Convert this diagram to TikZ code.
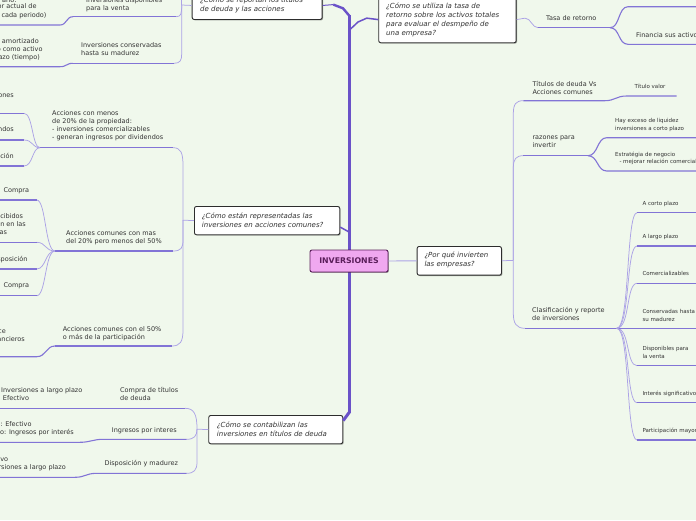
\documentclass[tikz,border=0pt]{standalone}
\usepackage{fontspec}
\setmainfont{DejaVu Sans}
\usetikzlibrary{shadows}
\definecolor{bg}{RGB}{240,248,236}
\definecolor{trunkc}{RGB}{106,82,200}
\definecolor{ulc}{RGB}{130,116,214}
\definecolor{cvc}{RGB}{172,163,230}
\definecolor{txt}{RGB}{51,51,51}
\definecolor{boxd}{RGB}{45,45,45}
\definecolor{cfill}{RGB}{240,168,240}
\definecolor{cdraw}{RGB}{90,30,90}
\tikzset{
  tx/.style={font=\fontsize{6.5}{8}\selectfont, text=txt, inner sep=0pt, anchor=base west, align=left},
  txr/.style={tx, anchor=base east, align=right},
  ts/.style={font=\fontsize{5.5}{7.2}\selectfont, text=txt, inner sep=0pt, anchor=base west, align=left},
  bt/.style={font=\itshape\fontsize{7}{9}\selectfont, text=txt, inner sep=0pt, anchor=base west, align=left},
  qbox/.style={draw=boxd, fill=white, line width=0.9pt, rounded corners=2pt, anchor=north west,
    inner sep=0pt, drop shadow={shadow xshift=0.9pt, shadow yshift=-0.9pt, opacity=0.35, fill=black}},
  cbox/.style={draw=cdraw, fill=cfill, line width=0.9pt, rounded corners=2pt, minimum width=78pt,
    minimum height=22pt, inner sep=0pt, font=\bfseries\fontsize{7.8}{9}\selectfont, text=cdraw,
    drop shadow={shadow xshift=0.9pt, shadow yshift=-0.9pt, opacity=0.35, fill=black}},
  ul/.style={draw=ulc, line width=1.1pt},
  cv/.style={draw=cvc, line width=0.75pt},
  trk/.style={draw=trunkc, line width=3.3pt},
  tlk/.style={draw=trunkc, line width=1.5pt},
  lk/.style={draw=cvc, line width=0.9pt},
}
\begin{document}
\begin{tikzpicture}[x=1pt,y=-1pt]
\useasboundingbox (0,0) rectangle (696,520);
\fill[bg] (0,0) rectangle (696,520);
\clip (0,0) rectangle (696,520);

% ---------------- trunk ----------------
\draw[trk] (349.5,413) -- (349.5,15);
\draw[tlk, line width=2.4pt] (349.5,16) -- (343,8.3) -- (333.3,4.6);

% ---------------- boxes ----------------
\node[qbox, minimum width=130pt, minimum height=28pt] (b1) at (191.7,-9) {};
\node[bt] (b1t) at (200,11.5) {¿Cómo se reportan los títulos\\de deuda y las acciones};
\node[qbox, minimum width=137.4pt, minimum height=46.3pt] (b2) at (378.3,-4) {};
\node[bt] (b2t) at (386,35.5) {¿Cómo se utiliza la tasa de\\retorno sobre los activos totales\\para evaluar el desmpeño de\\una empresa?};
\node[qbox, minimum width=145.3pt, minimum height=28.3pt] (b3) at (194,206) {};
\node[bt] (b3t) at (201.7,227.3) {¿Cómo están representadas las\\inversiones en acciones comunes?};
\node[qbox, minimum width=84.3pt, minimum height=28.7pt] (b4) at (416.7,246) {};
\node[bt] (b4t) at (424.3,266.8) {¿Por qué invierten\\las empresas?};
\node[qbox, minimum width=134pt, minimum height=28.3pt] (b5) at (208.3,415) {};
\node[bt] (b5t) at (216.7,436.5) {¿Cómo se contabilizan las\\inversiones en títulos de deuda};
\node[cbox] (inv) at (349,261) {INVERSIONES};

% trunk links
\draw[tlk, line width=1pt] (333.3,4.6) -- (b1.east);
\draw[tlk] (349.5,30) -- (358,22) -- (366.7,18.15) -- (b2.west);
\draw[tlk] ([yshift=-6.5pt]b3.east) -- (348.5,231.7);
\draw[trk, line width=3pt] (349.5,412) -- ([yshift=9pt]b5.east);
\draw[lk] (inv.east) -- (b4.west);

% ---------------- box 1 group ----------------
\coordinate (j1) at (181.7,5);
\draw[cv] (b1.west) -- (j1);
\draw[cv] (181.7,-15) -- (j1);
\draw[cv] (j1) .. controls (181.7,14) and (181,16.7) .. (176,16.7);
\draw[ul] (176,16.7) -- (73,16.7);
\draw[cv] (j1) -- (181.7,54) .. controls (181.7,60.5) and (180,63.3) .. (174,63.3);
\draw[ul] (174,63.3) -- (73,63.3);
\draw[ul] (73,16.7) .. controls (66,16.7) and (67,25) .. (60,25) -- (-2,25);
\draw[ul] (73,63.3) .. controls (66,63.3) and (67,66.7) .. (60,66.7) -- (-2,66.7);
\node[tx] (a1) at (86,10.2) {Inversiones disponibles\\para la venta};
\node[tx] (a2) at (81,55.4) {Inversiones conservadas\\hasta su madurez};
\node[txr] (a1a) at (16.7,2.2) {ano:};
\node[txr] (a1b) at (36.7,8.9) {or actual de};
\node[txr] (a1c) at (46.7,17.2) {cada periodo)};
\node[txr] (a2a) at (39,43.9) {amortizado};
\node[txr] (a2b) at (42.7,51.5) {o como activo};
\node[txr] (a2c) at (40,59.5) {azo (tiempo)};

% ---------------- box 2 group ----------------
\draw[cv] (b2.east) -- (525,18.15) .. controls (531,18.15) and (532,27.7) .. (538,27.7);
\draw[ul] (538,27.7) -- (610,27.7);
\draw[ul] (610,27.7) .. controls (620,27.7) and (618,6.7) .. (628,6.7) -- (700,6.7);
\draw[ul] (610,27.7) .. controls (620,27.7) and (618,44.3) .. (628,44.3) -- (700,44.3);
\node[tx] (tr) at (546,20.5) {Tasa de retorno};
\node[tx] (fa) at (636,37.9) {Financia sus activos};

% ---------------- box 3 group ----------------
\coordinate (j3) at (183,220.15);
\draw[cv] (b3.west) -- (j3);
\draw[cv] (j3) -- (183,166) .. controls (183,153) and (181,147.7) .. (173,147.7);
\draw[ul] (173,147.7) -- (40,147.7);
\draw[cv] (j3) -- (183,240) .. controls (183,248) and (181,251) .. (173,251);
\draw[ul] (173,251) -- (55,251);
\draw[cv] (j3) -- (183,330) .. controls (183,342) and (180,346) .. (171.7,346);
\draw[ul] (171.7,346) -- (55,346);
\foreach \yy in {113.3,140,166}{
  \draw[cv] (40,147.7) .. controls (32,147.7) and (33,\yy) .. (24,\yy);
  \draw[ul] (24,\yy) -- (-2,\yy);
}
\foreach \yy in {200,242.3,269,295.7}{
  \draw[cv] (55,251) .. controls (45,251) and (46,\yy) .. (36.7,\yy);
  \draw[ul] (36.7,\yy) -- (-2,\yy);
}
\draw[ul] (55,346) .. controls (46,346) and (46,356.7) .. (36.7,356.7) -- (-2,356.7);
\node[tx] (p1) at (52,139.5) {Acciones con menos\\de 20\% de la propiedad:\\- inversiones comercializables\\- generan ingresos por dividendos};
\node[tx] (p2) at (66,243.3) {Acciones comunes con mas\\del 20\% pero menos del 50\%};
\node[tx] (p3) at (62.7,339) {Acciones comunes con el 50\%\\o más de la participación};
\node[txr] (q1) at (14,97.9) {ones};
\node[txr] (q2) at (14,131.5) {ndos};
\node[txr] (q3) at (14,158.2) {ción};
\node[tx] (q4) at (3.3,192.5) {Compra};
\node[txr] (q5a) at (23.3,218.2) {ecibidos};
\node[txr] (q5b) at (26,226.5) {n en las};
\node[txr] (q5c) at (7.3,234.5) {tas};
\node[txr] (q6) at (27.7,261.5) {sposición};
\node[tx] (q7) at (3.3,287.9) {Compra};
\node[txr] (q8a) at (6,333.9) {ce};
\node[txr] (q8b) at (25,341.5) {ancieros};

% ---------------- box 4 group ----------------
\coordinate (j4) at (513.3,260.35);
\draw[cv] (b4.east) -- (j4);
\draw[cv] (j4) -- (513.3,114) .. controls (513.3,104) and (516,100.7) .. (523.3,100.7);
\draw[ul] (523.3,100.7) -- (605,100.7) .. controls (615,100.7) and (616,96) .. (626.7,96) -- (676.7,96);
\draw[cv] (j4) -- (513.3,168) .. controls (513.3,159) and (516,155.7) .. (523.3,155.7);
\draw[ul] (523.3,155.7) -- (588,155.7);
\draw[ul] (588,155.7) .. controls (598,155.7) and (597,137.7) .. (606.7,137.7) -- (700,137.7);
\draw[ul] (588,155.7) .. controls (598,155.7) and (597,171) .. (606.7,171) -- (700,171);
\draw[cv] (j4) -- (513.3,313) .. controls (513.3,323) and (516,328.3) .. (525,328.3);
\draw[ul] (525,328.3) -- (616.7,328.3) -- (700,328.3);
\foreach \yy in {212.7,246,283.3,365.7,402.7,440}{
  \draw[cv] (616.7,328.3) .. controls (630,328.3) and (626,\yy) .. (637,\yy);
  \draw[ul] (637,\yy) -- (700,\yy);
}
\node[tx] (r1) at (532.3,94) {Títulos de deuda Vs\\Acciones comunes};
\node[tx] (r2) at (532.3,147.9) {razones para\\invertir};
\node[tx] (r3) at (532,320.7) {Clasificación y reporte\\de inversiones};
\node[ts] (s1) at (634.3,88.5) {Título valor};
\node[ts, font=\fontsize{5.5}{8}\selectfont] (s2) at (615,130.8) {Hay exceso de liquidez\\inversiones a corto plazo};
\node[ts] (s3a) at (615,156.8) {Estratégia de negocio};
\node[ts] (s3b) at (619.3,163.5) {- mejorar relación comercial};
\node[ts] (c1) at (642.3,205.8) {A corto plazo};
\node[ts] (c2) at (642.3,238.8) {A largo plazo};
\node[ts] (c3) at (642.3,275.8) {Comercializables};
\node[ts] (c4) at (642.3,321) {Conservadas hasta\\su madurez};
\node[ts] (c5) at (642.3,358) {Disponibles para\\la venta};
\node[ts] (c6) at (642.3,395.5) {Interés significativo};
\node[ts] (c7) at (642.3,432.8) {Participación mayoritaria};

% ---------------- box 5 group ----------------
\coordinate (j5) at (197,429.15);
\draw[cv] (b5.west) -- (j5);
\draw[cv] (j5) .. controls (197,414) and (194,408.3) .. (185,408.3);
\draw[ul] (185,408.3) -- (-2,408.3);
\draw[cv] (j5) .. controls (197,436) and (194,439.3) .. (186.7,439.3);
\draw[ul] (186.7,439.3) -- (103.3,439.3) .. controls (93,439.3) and (90,442.3) .. (80,442.3) -- (-2,442.3);
\draw[cv] (j5) -- (197,462) .. controls (197,470) and (194,473.3) .. (186.7,473.3);
\draw[ul] (186.7,473.3) -- (96.7,473.3) .. controls (86,473.3) and (85,477.3) .. (75,477.3) -- (-2,477.3);
\node[tx] (d1) at (120,400.9) {Compra de títulos\\de deuda};
\node[tx] (d2) at (111.7,432.2) {Ingresos por interes};
\node[tx] (d3) at (104.3,465.5) {Disposición y madurez};
\node[tx] (e1a) at (1,392.9) {Inversiones a largo plazo};
\node[tx] (e1b) at (2.7,400.5) {Efectivo};
\node[txr] (e2a) at (31.7,426.2) {o: Efectivo};
\node[txr] (e2b) at (74,434.5) {o: Ingresos por interés};
\node[txr] (e3a) at (8.3,461.5) {vo};
\node[txr] (e3b) at (66,469.5) {rsiones a largo plazo};
\end{tikzpicture}
\end{document}
